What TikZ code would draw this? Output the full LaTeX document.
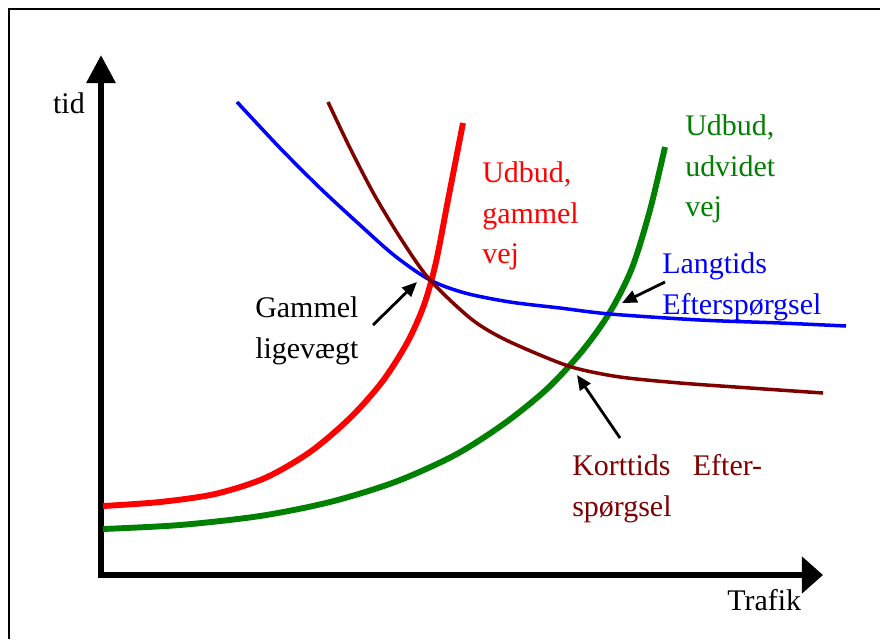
\documentclass[tikz,border=0pt]{standalone}
\usepackage{fontspec}
\setmainfont{Liberation Serif}
\usetikzlibrary{arrows.meta}

\definecolor{udgreen}{RGB}{0,128,0}
\definecolor{kortred}{RGB}{128,0,0}

\tikzset{supply/.style={smooth,line width=4.2pt},
         demand/.style={smooth,line width=2.5pt},
         pointer/.style={-{Triangle[length=10.5pt,width=9pt]},line width=2pt},
         axis/.style={line width=4.3pt,{Triangle[length=20pt,width=20pt]}-{Triangle[length=15pt,width=25.5pt]}}}

\begin{document}
\begin{tikzpicture}[x=0.025cm,y=-0.025cm]
                  \tikzstyle{every node}=[font=\rmfamily\fontsize{21.3}{28.8}\selectfont,inner sep=0pt]
                  \useasboundingbox (0,0) rectangle (880,639);
                  \draw[line width=1.4pt] (9,639) -- (9,9) -- (880,9);
                  \coordinate (O) at (101,575);
                  \coordinate (ytop) at (101,55);
                  \coordinate (xend) at (823,575);
                  \draw[axis] (ytop) -- (O) -- (xend);
                  \node[anchor=base east] (tid) at (85,113) {tid};
                  \node[anchor=base west] (trafik) at (727,610) {Trafik};
                  \draw[supply,red] plot coordinates {(103,506) (160,502) (215,494) (265,478) (310,452) (350,418) (382,382) (407,343) (424,305) (436,262) (448,200) (463,123)};
                  \draw[supply,udgreen] plot coordinates {(103,529) (180,525) (260,516) (330,502) (395,482) (455,455) (505,423) (548,388) (583,350) (610,312) (632,268) (650,210) (665,147)};
                  \draw[demand,blue] plot coordinates {(237,102) (280,148) (320,188) (360,225) (395,256) (430,280) (465,293) (510,302) (560,308) (610,314) (700,320) (780,323) (846,326)};
                  \draw[demand,kortred] plot coordinates {(328,102) (350,148) (375,196) (403,242) (430,280) (470,318) (500,337) (540,355) (575,368) (620,377) (680,383) (750,388) (823,393)};
                  \node[anchor=north west,align=left,red] (oldsupply) at (482,161.5) {Udbud,\\gammel\\vej};
                  \node[anchor=north west,align=left,udgreen] (newsupply) at (685,114.5) {Udbud,\\udvidet\\vej};
                  \node[anchor=north west,align=left,blue] (longdemand) at (662,252.5) {Langtids\\Efterspørgsel};
                  \node[anchor=north west,align=left] (oldeq) at (255,296.5) {Gammel\\ligevægt};
                  \node[anchor=north west,align=left,kortred] (shortdemand) at (572,454.5) {Korttids\hspace{0.75em}Efter-\\spørgsel};
                  \coordinate (oldeqtail) at (373,325);
                  \coordinate (oldeqtip) at (417,282);
                  \coordinate (longtail) at (665,282);
                  \coordinate (longtip) at (622,303);
                  \coordinate (shorttail) at (620,438);
                  \coordinate (shorttip) at (577,375);
                  \draw[pointer] (oldeqtail) -- (oldeqtip);
                  \draw[pointer] (longtail) -- (longtip);
                  \draw[pointer] (shorttail) -- (shorttip);
              \end{tikzpicture}
\end{document}
